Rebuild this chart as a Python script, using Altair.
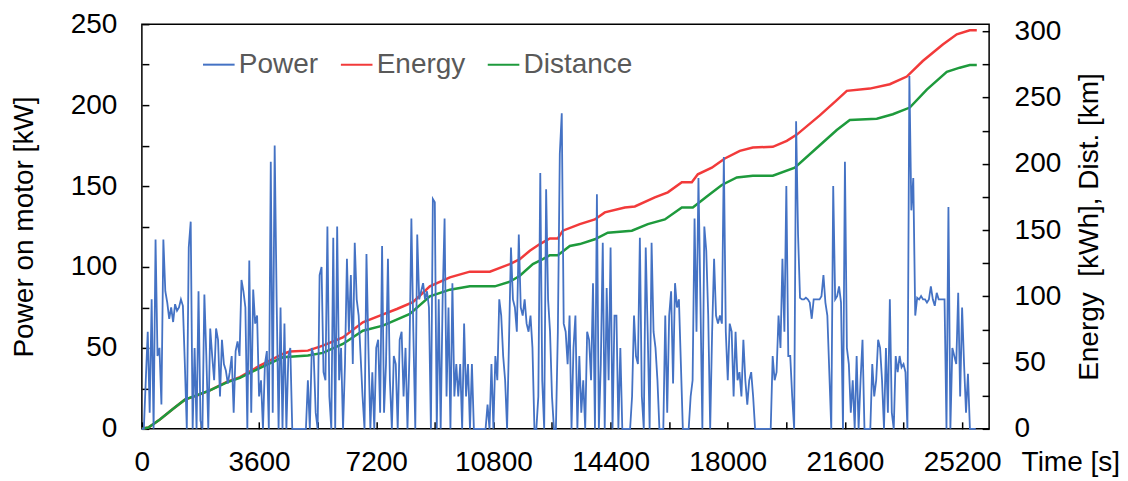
import altair as alt
import pandas as pd

TIME_STEP_S = 60  # sampling interval of the power record [s]

power_kw = [
    0, 0, 30, 60, 10, 80, 0, 117, 45, 50,
    15, 117, 85, 78, 68, 75, 66, 77, 73, 75,
    80, 76, 40, 0, 112, 128, 0, 50, 0, 85,
    5, 0, 83, 45, 0, 62, 45, 30, 62, 55,
    20, 55, 40, 36, 28, 35, 45, 10, 48, 54,
    45, 92, 85, 75, 0, 104, 10, 86, 65, 70,
    20, 30, 0, 40, 48, 0, 165, 10, 175, 80,
    0, 75, 0, 65, 0, 45,
    50, 0, 0, 0, 0, 0, 0, 0, 0, 30,
    0, 50, 45, 10, 0, 95, 100, 35, 30, 125,
    20, 0, 118, 0, 125, 30, 50, 0, 40, 105,
    60, 95, 40, 115, 80, 70, 45, 20, 0, 108,
    50, 0, 35, 0, 50, 55, 10, 113, 10, 40,
    105, 30, 0, 45, 40, 0, 55, 60, 20, 50,
    0, 45, 130, 60, 0, 120, 80, 85, 90, 80,
    85, 75, 0, 142,
    140, 0, 80, 0, 80, 130, 20, 75, 0, 90,
    20, 40, 20, 40, 0, 65, 20, 40, 0, 40,
    0, 0, 0, 0, 0, 0, 0, 15, 0, 40,
    0, 45, 30, 80, 70, 45, 30, 0, 55, 112,
    80, 75, 60, 120, 75, 70, 80, 65, 60, 70,
    50, 0, 0, 20, 158, 30, 0, 148, 80, 60,
    20, 0, 0, 60, 170, 195, 65, 60, 40, 70,
    0, 50, 70, 0, 45,
    10, 30, 0, 60, 55, 30, 90, 0, 145, 0,
    40, 115, 0, 87, 30, 112, 0, 70, 70, 0,
    50, 0, 0, 0, 0, 0, 20, 70, 45, 40,
    118, 20, 0, 112, 60, 0, 115, 60, 50, 30,
    0, 0, 0, 70, 10, 70, 85, 28, 90, 75,
    80, 40, 0, 0, 0, 0, 20, 30, 130, 60,
    155, 80, 0, 125, 110, 70, 0, 60, 105, 70,
    65, 70, 65, 168,
    60, 30, 65, 60, 20, 60, 30, 35, 20, 55,
    30, 15, 30, 35, 20, 0, 0, 0, 0, 0,
    0, 0, 0, 0, 45, 30, 35, 70, 50, 105,
    60, 150, 45, 45, 20, 0, 190, 120, 81, 80,
    80, 81, 80, 78, 68, 80, 80, 80, 80, 82,
    95, 78, 70, 35, 0, 150, 80, 82, 88, 78,
    0, 165, 50, 40, 10, 30, 0, 45, 0, 30,
    55, 0, 0, 0,
    0, 40, 20, 30, 55, 50, 30, 0, 50, 10,
    80, 10, 0, 45, 35, 45, 38, 40, 35, 0,
    218, 135, 155, 70, 81, 80, 82, 80, 80, 78,
    80, 88, 80, 76, 84, 80, 80, 80, 80, 0,
    137, 0, 50, 45, 40, 84, 20, 75, 40, 10,
    34, 0, 0, 0, 0,
]
power_time_s = [i * TIME_STEP_S for i in range(len(power_kw))]

energy_time_s = [0, 200, 553, 952, 1321, 1690, 2089, 2611, 3011, 3625,
                 4332, 4547, 5100, 5560, 6175, 6789, 7311, 7834, 8325, 8847,
                 9462, 10076, 10691, 11305, 11612, 11919, 12227, 12534, 12780, 12933,
                 13455, 13916, 14223, 14838, 15145, 15759, 16159, 16589, 16896, 17080,
                 17510, 17910, 18371, 18770, 19384, 19814, 20122, 20828, 21350, 21658,
                 22364, 22979, 23501, 23992, 24607, 25037, 25436, 25651]
energy_kwh = [0, 1, 7, 15, 22, 25, 29, 35.4, 39, 47.7,
              56.5, 58.3, 59, 62.8, 69, 80.4, 85.4, 90.4, 95.5, 107.5,
              114.3, 118.6, 118.6, 124.3, 128, 134.4, 139.4, 143.7, 143.7, 149.5,
              154.5, 158, 163.3, 167, 167.8, 174.6, 178.4, 186, 186, 192,
              197, 204, 209.7, 212.3, 212.8, 217.3, 222, 236.5, 248, 255,
              256.7, 260, 265.8, 277.5, 290, 297.7, 300.7, 300.7]

dist_time_s = [0, 200, 553, 952, 1321, 2089, 2611, 3011, 3717, 4332,
               5100, 5560, 6175, 6789, 7404, 8233, 8847, 9462, 10076, 10844,
               11305, 11612, 12012, 12319, 12534, 12780, 13148, 13455, 13916, 14315,
               15053, 15544, 16067, 16589, 16927, 17387, 17818, 18279, 18770, 19384,
               20060, 20828, 21350, 21750, 22579, 23071, 23593, 24115, 24730, 25129,
               25436, 25651]
dist_km = [0, 1, 7, 15, 22, 29, 35, 38.5, 47, 54,
           55.3, 57.3, 64, 74, 77.9, 86.7, 100, 105, 107.5, 107.5,
           111, 115.5, 124.3, 128, 131, 131, 138, 139.4, 143, 148,
           149.5, 154.5, 158, 167, 167, 175.8, 184, 189.7, 191, 191,
           197, 214, 225.5, 233, 234, 237.4, 242.4, 256, 269.3, 272.5,
           274.5, 274.5]

series_names = ["Power", "Energy", "Distance"]
series_colors = ["#4472C4", "#F23A3A", "#1E9A3C"]

x_ticks = list(range(0, 25201, 1800))
left_ticks = list(range(0, 251, 25))
right_ticks = list(range(0, 301, 25))

FONT = "Liberation Sans"
FS = 28

power_df = pd.DataFrame({"t": power_time_s, "power": power_kw, "series": "Power"})
ed_df = pd.concat([
    pd.DataFrame({"t": energy_time_s, "value": energy_kwh, "series": "Energy"}),
    pd.DataFrame({"t": dist_time_s, "value": dist_km, "series": "Distance"}),
], ignore_index=True)

common = dict(domain=False, grid=False, tickColor="black", tickWidth=1.5,
              tickSize=7, offset=-7, labelFont=FONT, labelFontSize=FS,
              labelColor="black", titleFont=FONT, titleFontSize=FS,
              titleFontWeight="normal", titleColor="black",
              labelOverlap=False, labelFlush=False)

legend = alt.Legend(orient="none", legendX=60, legendY=23.5, direction="horizontal",
                    title=None, symbolType="stroke", symbolSize=1000,
                    symbolStrokeWidth=2, labelFont=FONT, labelFontSize=FS,
                    labelColor="#595959", columnPadding=18, labelOffset=3,
                    padding=0)
color = alt.Color("series:N",
                  scale=alt.Scale(domain=series_names, range=series_colors),
                  legend=legend)

x_enc = alt.X("t:Q", scale=alt.Scale(domain=[0, 26030], nice=False),
              axis=alt.Axis(orient="bottom", values=x_ticks, format="d",
                            labelExpr="datum.value % 3600 == 0 ? datum.label : ''",
                            labelPadding=20, title="Time [s]", titleX=880,
                            titleY=27, titleAlign="left", titleBaseline="top",
                            titleAngle=0, **common))

ed_layer = alt.Chart(ed_df).mark_line(strokeWidth=2.5).encode(
    x=x_enc,
    y=alt.Y("value:Q", scale=alt.Scale(domain=[0, 305.3], nice=False),
            axis=alt.Axis(orient="right", values=right_ticks, format="d",
                          labelExpr="datum.value % 50 == 0 ? datum.label : ''",
                          labelPadding=25, title="Energy\u00a0 [kWh], Dist. [km]",
                          titleAngle=270, titleBaseline="top", titlePadding=15,
                          **common)),
    color=color,
    detail="series:N",
)

power_layer = alt.Chart(power_df).mark_line(strokeWidth=1.8).encode(
    x=x_enc,
    y=alt.Y("power:Q", scale=alt.Scale(domain=[0, 250], nice=False),
            axis=alt.Axis(orient="left", values=left_ticks, format="d",
                          labelExpr="datum.value % 50 == 0 ? datum.label : ''",
                          labelPadding=25, title="Power on motor [kW]",
                          titlePadding=32, **common)),
    color=color,
)

chart = alt.layer(ed_layer, power_layer).resolve_scale(y="independent").properties(
    width=848, height=405,
    padding={"left": 2, "top": 2, "right": 0, "bottom": 0},
).configure_view(stroke="black", strokeWidth=1.5)

chart.save("out.html", embed_options={"renderer": "svg", "actions": False})
